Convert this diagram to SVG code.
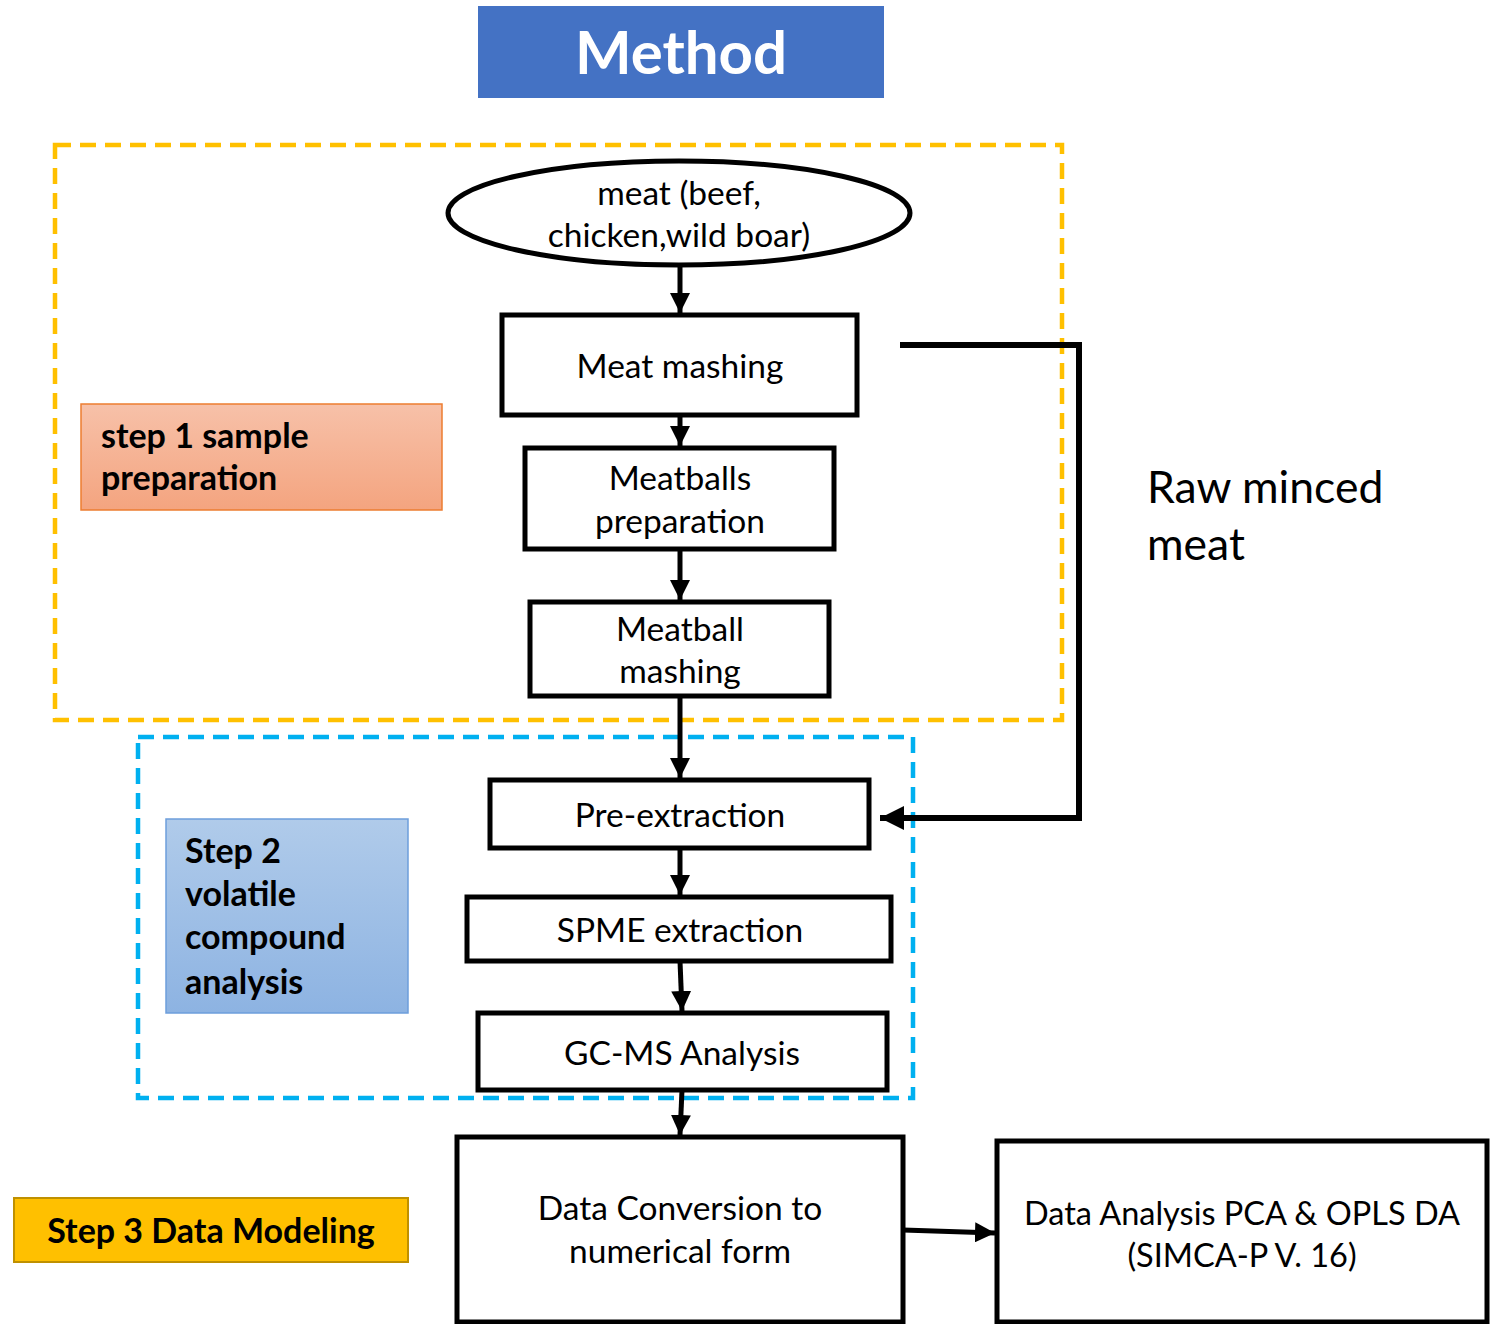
<svg xmlns="http://www.w3.org/2000/svg" width="1501" height="1324" viewBox="0 0 1501 1324">
<defs>
<style>
.t{font-family:Lato,"Open Sans","Liberation Sans",sans-serif;font-size:33.5px;fill:#000;text-anchor:middle}
.b{font-weight:bold;text-anchor:start;font-size:34px}
.box{fill:#fff;stroke:#000;stroke-width:5}
.ln{stroke:#000;stroke-width:5;fill:none}
</style>
<linearGradient id="g1" x1="0" y1="0" x2="0" y2="1"><stop offset="0" stop-color="#F7C1A9"/><stop offset="1" stop-color="#F4A47F"/></linearGradient>
<linearGradient id="g2" x1="0" y1="0" x2="0" y2="1"><stop offset="0" stop-color="#B0CBEA"/><stop offset="1" stop-color="#8DB3E2"/></linearGradient>
<marker id="ah" viewBox="0 0 10 10" refX="10" refY="5" markerWidth="4" markerHeight="4" markerUnits="strokeWidth" orient="auto"><path d="M0,0 L10,5 L0,10 z" fill="#000"/></marker>
</defs>
<rect width="1501" height="1324" fill="#fff"/>
<g id="title"><rect x="478" y="6" width="406" height="92" fill="#4472C4"/><text x="681" y="74" class="t" style="font-size:60px;font-weight:bold;fill:#fff">Method</text></g>
<g id="group1"><rect x="55" y="145" width="1007" height="575" fill="none" stroke="#FFC000" stroke-width="4.5" stroke-dasharray="16,9"/></g>
<g id="group2"><rect x="138" y="737" width="775" height="361" fill="none" stroke="#00B0F0" stroke-width="4.5" stroke-dasharray="16,9"/></g>
<g id="step1"><rect x="81" y="404" width="361" height="106" fill="url(#g1)" stroke="#ED7D31" stroke-width="1.5"/><text class="t b" x="101" y="448">step 1 sample</text><text class="t b" x="101" y="490">preparation</text></g>
<g id="step2"><rect x="166" y="819" width="242" height="194" fill="url(#g2)" stroke="#6D9EDB" stroke-width="1.5"/><text class="t b" x="185" y="863">Step 2</text><text class="t b" x="185" y="906">volatile</text><text class="t b" x="185" y="949">compound</text><text class="t b" x="185" y="994">analysis</text></g>
<g id="step3"><rect x="14" y="1198" width="394" height="64" fill="#FFC000" stroke="#BF9000" stroke-width="2"/><text class="t" x="211" y="1243" style="font-weight:bold;font-size:34px">Step 3 Data Modeling</text></g>
<g id="meat"><ellipse cx="679" cy="213" rx="231" ry="52" class="box"/><text class="t" x="679" y="205">meat (beef,</text><text class="t" x="679" y="247">chicken,wild boar)</text></g>
<g id="meatmashing"><rect x="502" y="315" width="355" height="100" class="box"/><text class="t" x="680" y="378">Meat mashing</text></g>
<g id="meatballsprep"><rect x="525" y="448" width="309" height="101" class="box"/><text class="t" x="680" y="490">Meatballs</text><text class="t" x="680" y="533">preparation</text></g>
<g id="meatballmashing"><rect x="530" y="602" width="299" height="94" class="box"/><text class="t" x="680" y="641">Meatball</text><text class="t" x="680" y="683">mashing</text></g>
<g id="preextraction"><rect x="490" y="780" width="379" height="68" class="box"/><text class="t" x="680" y="827">Pre-extraction</text></g>
<g id="spme"><rect x="467" y="897" width="424" height="64" class="box"/><text class="t" x="680" y="942">SPME extraction</text></g>
<g id="gcms"><rect x="478" y="1013" width="409" height="77" class="box"/><text class="t" x="682" y="1065">GC-MS Analysis</text></g>
<g id="conversion"><rect x="457" y="1137" width="446" height="185" class="box"/><text class="t" x="680" y="1220">Data Conversion to</text><text class="t" x="680" y="1263">numerical form</text></g>
<g id="analysis"><rect x="997" y="1141" width="490" height="181" class="box"/><text class="t" x="1242" y="1225" style="font-size:32.5px">Data Analysis PCA &amp; OPLS DA</text><text class="t" x="1242" y="1267" style="font-size:32.5px">(SIMCA-P V. 16)</text></g>
<g id="rawlabel"><text class="t" x="1147" y="503" style="font-size:44.5px;text-anchor:start">Raw minced</text><text class="t" x="1147" y="560" style="font-size:44.5px;text-anchor:start">meat</text></g>
<g id="connectors">
<line class="ln" x1="680" y1="265" x2="680" y2="313" marker-end="url(#ah)"/>
<line class="ln" x1="680" y1="415" x2="680" y2="446" marker-end="url(#ah)"/>
<line class="ln" x1="680" y1="549" x2="680" y2="600" marker-end="url(#ah)"/>
<line class="ln" x1="680" y1="696" x2="680" y2="778" marker-end="url(#ah)"/>
<line class="ln" x1="680" y1="848" x2="680" y2="895" marker-end="url(#ah)"/>
<line class="ln" x1="680" y1="961" x2="682" y2="1011" marker-end="url(#ah)"/>
<line class="ln" x1="682" y1="1090" x2="680" y2="1135" marker-end="url(#ah)"/>
<line class="ln" x1="903" y1="1230" x2="995" y2="1233" marker-end="url(#ah)"/>
<polyline points="900,345 1079,345 1079,818 880,818" fill="none" stroke="#000" stroke-width="6" marker-end="url(#ah)"/>
</g>
</svg>
